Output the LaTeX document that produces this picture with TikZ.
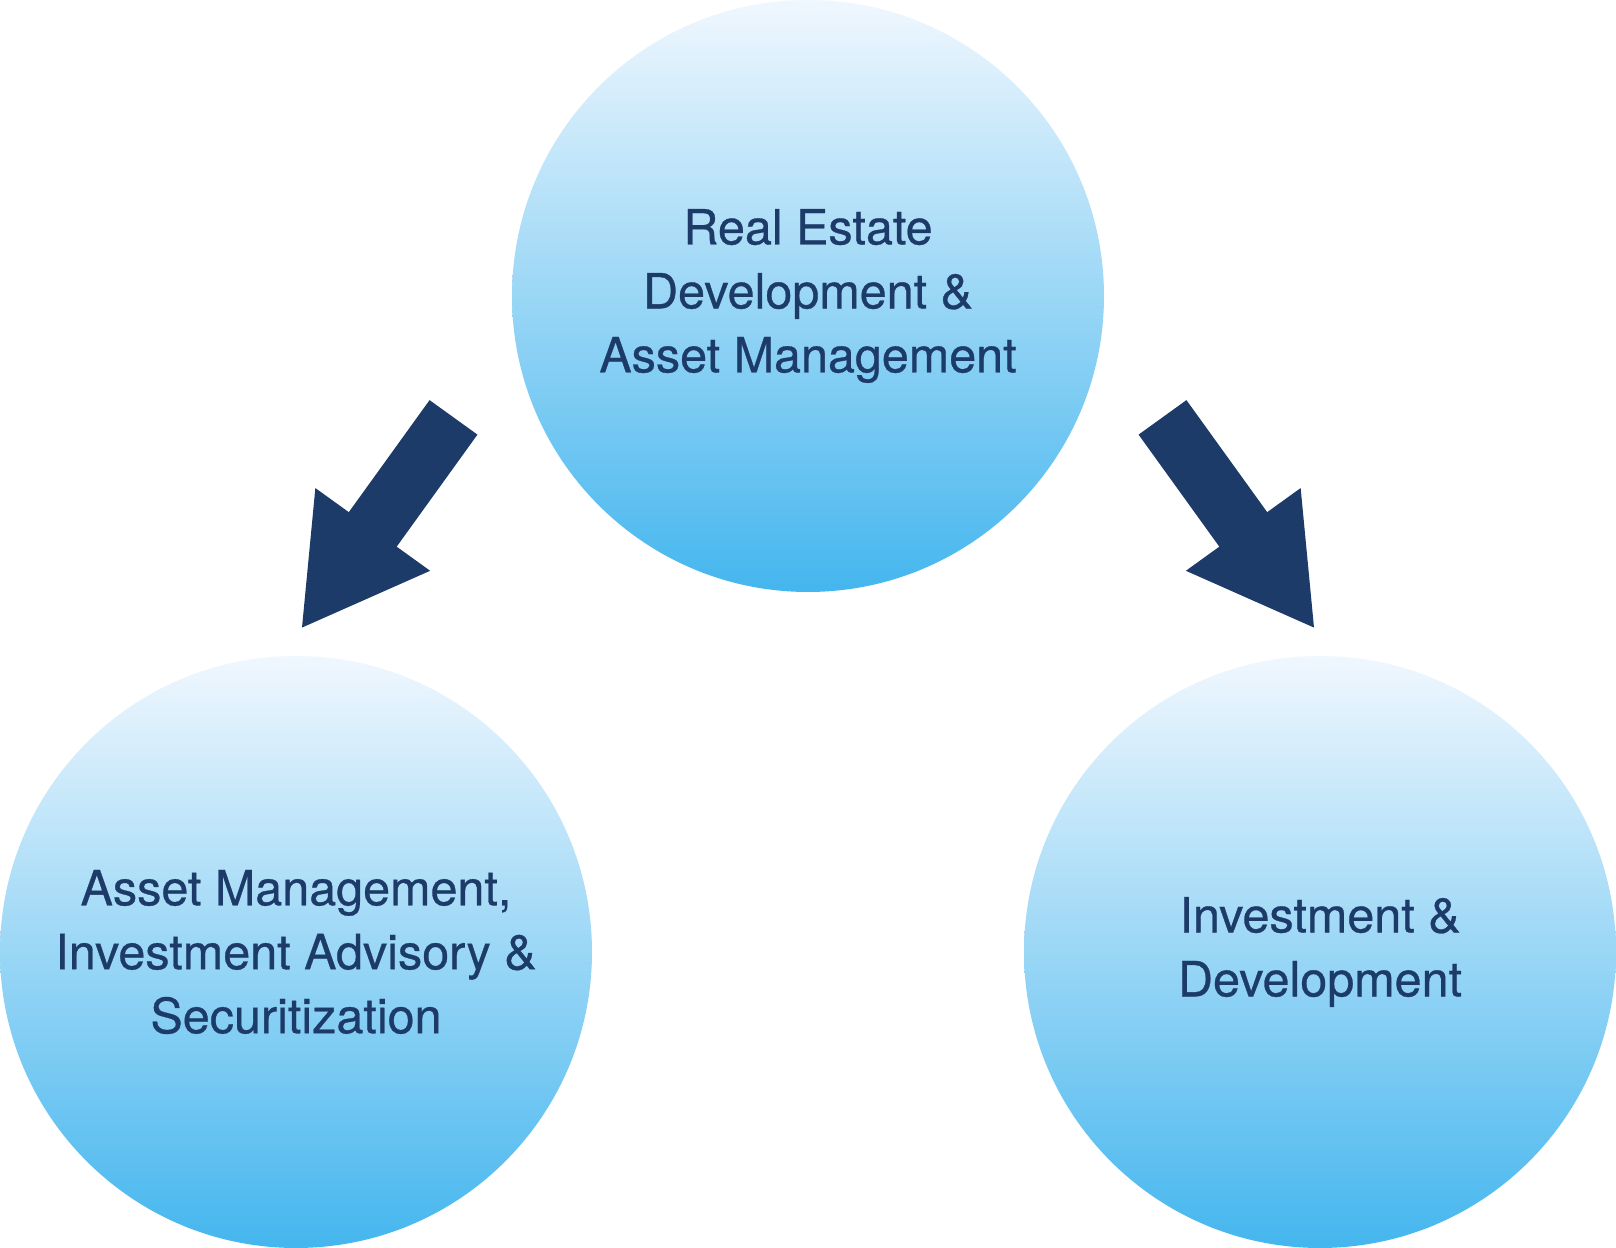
\documentclass[tikz,border=0pt]{standalone}
\usepackage{fontspec}
\setmainfont{TeX Gyre Heros}
\newfontfamily\bubblefont{TeX Gyre Heros}[FakeBold=0.6]
\usepackage{tikz}
\usetikzlibrary{arrows.meta}
\usepackage{xcolor}
\definecolor{navy}{HTML}{1D3B68}
\definecolor{bubbletop}{HTML}{F0F7FE}
\definecolor{bubblemid}{HTML}{C2E5F9}
\definecolor{bubblebot}{HTML}{44B6EE}
\begin{document}
\begin{tikzpicture}[>={Triangle[length=12.1mm,width=14.1mm,line width=0.6pt]},font=\bubblefont\fontsize{13.8}{18.2}\selectfont,
  bubble/.style={circle,minimum size=5.92cm,inner sep=0pt,top color=bubbletop,middle color=bubblemid,bottom color=bubblebot,text=navy,align=center}]
\useasboundingbox (0,0) rectangle (16.16,12.48);
\node[bubble] (realestate) at (8.08,9.52) {Real Estate\\Development \&\\Asset Management};
\node[bubble] (assetmgmt) at (2.96,2.96) {Asset Management,\\Investment Advisory \&\\Securitization};
\node[bubble] (investdev) at (13.2,2.96) {Investment \&\\Development};
\coordinate (leftstart) at (4.535,8.306);
\coordinate (lefttip) at (3.02,6.204);
\coordinate (rightstart) at (11.625,8.306);
\coordinate (righttip) at (13.14,6.204);
\draw[navy,line width=5.9mm,->] (leftstart) -- (lefttip);
\draw[navy,line width=5.9mm,->] (rightstart) -- (righttip);
\end{tikzpicture}
\end{document}
